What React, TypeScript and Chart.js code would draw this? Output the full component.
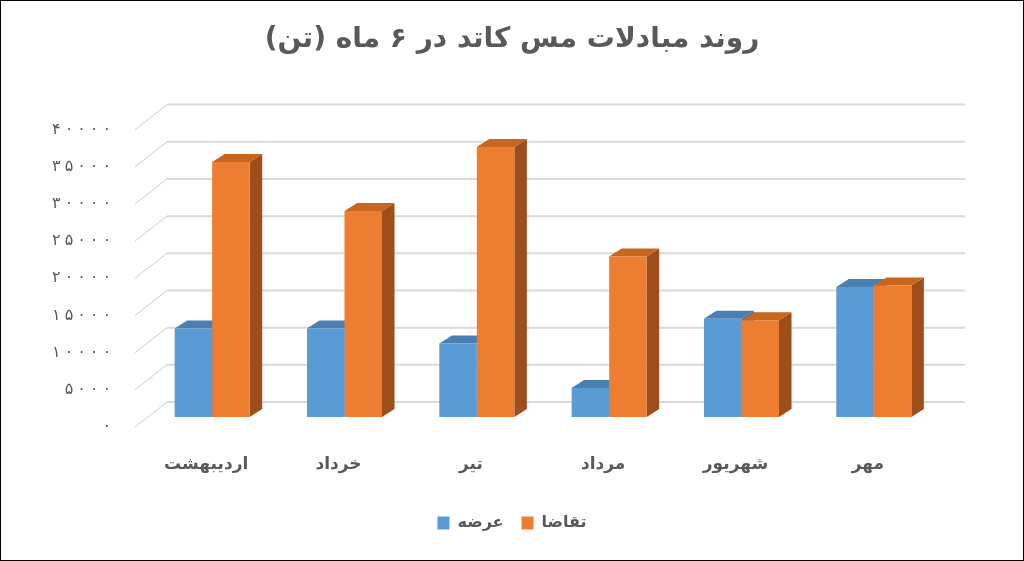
import { useEffect, useRef } from 'react'
import { Chart, registerables, type Plugin } from 'chart.js'

Chart.register(...registerables)

const TITLE = 'روند مبادلات مس کاتد در ۶ ماه (تن)'
const MONTHS = ['اردیبهشت', 'خرداد', 'تیر', 'مرداد', 'شهریور', 'مهر']
const SERIES = ['عرضه', 'تقاضا']
const SUPPLY = [11900, 11900, 9900, 3900, 13200, 17500]
const DEMAND = [34300, 27700, 36300, 21600, 13000, 17700]
const Y_MAX = 40000
const Y_STEP = 5000

const FONT = '"DejaVu Sans", sans-serif'
const GRAY = '#595959'
const FRONT = ['#5b9bd5', '#ed7d31']
// [top face, side face]
const SHADES = [
  ['#4a7fb3', '#3f6c97'],
  ['#c8651f', '#9d4e1b'],
]

// offsets of the fake 3d box (pixels)
const WALL_DX = 21
const WALL_DY = 15
const EDGE_DX = -11
const EDGE_DY = 10
const BAR_DX = 12.5
const BAR_DY = 8
const LABEL_GAP = 35
const DIGIT_GAP = 4

const FA_DIGITS = '۰۱۲۳۴۵۶۷۸۹'
const toFa = (v: number | string) => String(v).replace(/\d/g, (d) => FA_DIGITS[Number(d)])
// trailing RLM keeps the closing paren inside the rtl run
const rtl = (s: string) => s + '\u200F'

// right aligned, with extra room between digits like the original
function spacedText(ctx: CanvasRenderingContext2D, text: string, right: number, y: number) {
  const chars = [...text]
  let x = right
  ctx.textAlign = 'right'
  for (let i = chars.length - 1; i >= 0; i--) {
    ctx.fillText(chars[i], x, y)
    x -= ctx.measureText(chars[i]).width + DIGIT_GAP
  }
}

const depth3d: Plugin<'bar'> = {
  id: 'depth3d',
  beforeDatasetsDraw(chart) {
    const { ctx, chartArea: a } = chart
    const ys = chart.scales.y
    ctx.save()
    ys.ticks.forEach((t) => {
      const py = ys.getPixelForValue(t.value)
      ctx.strokeStyle = '#cccccc'
      ctx.lineWidth = 1
      ctx.beginPath()
      ctx.moveTo(a.left + EDGE_DX, py + EDGE_DY)
      ctx.lineTo(a.left + WALL_DX, py - WALL_DY)
      ctx.stroke()
      ctx.strokeStyle = '#d9d9d9'
      ctx.lineWidth = 2
      ctx.beginPath()
      ctx.moveTo(a.left + WALL_DX, py - WALL_DY)
      ctx.lineTo(a.right + WALL_DX + 4, py - WALL_DY)
      ctx.stroke()
      // tick label on the front edge
      ctx.fillStyle = GRAY
      ctx.font = `16px ${FONT}`
      ctx.textBaseline = 'middle'
      spacedText(ctx, toFa(t.value), a.left - LABEL_GAP, py + EDGE_DY)
    })
    chart.data.datasets.forEach((_, i) => {
      const meta = chart.getDatasetMeta(i)
      const [top, side] = SHADES[i]
      meta.data.forEach((el) => {
        const { x, y, base, width } = el.getProps(['x', 'y', 'base', 'width'], true) as any
        const l = x - width / 2
        const r = x + width / 2
        ctx.fillStyle = side
        ctx.beginPath()
        ctx.moveTo(r, y)
        ctx.lineTo(r + BAR_DX, y - BAR_DY)
        ctx.lineTo(r + BAR_DX, base - BAR_DY)
        ctx.lineTo(r, base)
        ctx.closePath()
        ctx.fill()
        ctx.fillStyle = top
        ctx.beginPath()
        ctx.moveTo(l, y)
        ctx.lineTo(l + BAR_DX, y - BAR_DY)
        ctx.lineTo(r + BAR_DX, y - BAR_DY)
        ctx.lineTo(r, y)
        ctx.closePath()
        ctx.fill()
      })
    })
    ctx.restore()
  },
}

export default function App() {
  const canvasRef = useRef<HTMLCanvasElement>(null)

  useEffect(() => {
    if (!canvasRef.current) return
    document.body.style.margin = '0'

    const chart = new Chart(canvasRef.current, {
      type: 'bar',
      data: {
        labels: MONTHS,
        datasets: [
          { label: SERIES[0], data: SUPPLY, backgroundColor: FRONT[0] },
          { label: SERIES[1], data: DEMAND, backgroundColor: FRONT[1] },
        ],
      },
      options: {
        responsive: true,
        maintainAspectRatio: false,
        animation: false,
        datasets: { bar: { categoryPercentage: 0.567, barPercentage: 1 } },
        layout: { padding: { left: 0, right: 0, top: 0, bottom: 19 } },
        plugins: {
          title: {
            display: true,
            text: rtl(TITLE),
            color: GRAY,
            font: { family: FONT, size: 28, weight: 'bold' },
            padding: { top: 22, bottom: 63 },
          },
          legend: {
            position: 'bottom',
            labels: {
              color: GRAY,
              font: { family: FONT, size: 16, weight: 'bold' },
              boxWidth: 12,
              boxHeight: 13,
              padding: 18,
            },
          },
          tooltip: { enabled: false },
        },
        scales: {
          x: {
            grid: { display: false },
            border: { display: false },
            ticks: {
              color: GRAY,
              font: { family: FONT, size: 17, weight: 'bold' },
              padding: 29,
              labelOffset: -6,
            },
            afterFit: (s) => {
              s.height = 80
            },
          },
          y: {
            min: 0,
            max: Y_MAX,
            grid: { display: false },
            border: { display: false },
            // labels are painted by depth3d on the front edge
            ticks: { stepSize: Y_STEP, display: false },
            afterFit: (s) => {
              s.width = 145
            },
          },
          // empty right axis, only reserves room for the 3d depth
          spacer: {
            type: 'linear',
            position: 'right',
            grid: { display: false },
            border: { display: false },
            ticks: { display: false },
            afterFit: (s) => {
              s.width = 83
            },
          },
        },
      },
      plugins: [depth3d],
    })

    return () => chart.destroy()
  }, [])

  return (
    <div
      style={{
        position: 'absolute',
        left: 0,
        top: 0,
        width: 1024,
        height: 561,
        boxSizing: 'border-box',
        border: '1px solid #000',
        background: '#fff',
      }}
    >
      <div style={{ position: 'relative', width: 1022, height: 559 }}>
        <canvas ref={canvasRef} />
      </div>
    </div>
  )
}
